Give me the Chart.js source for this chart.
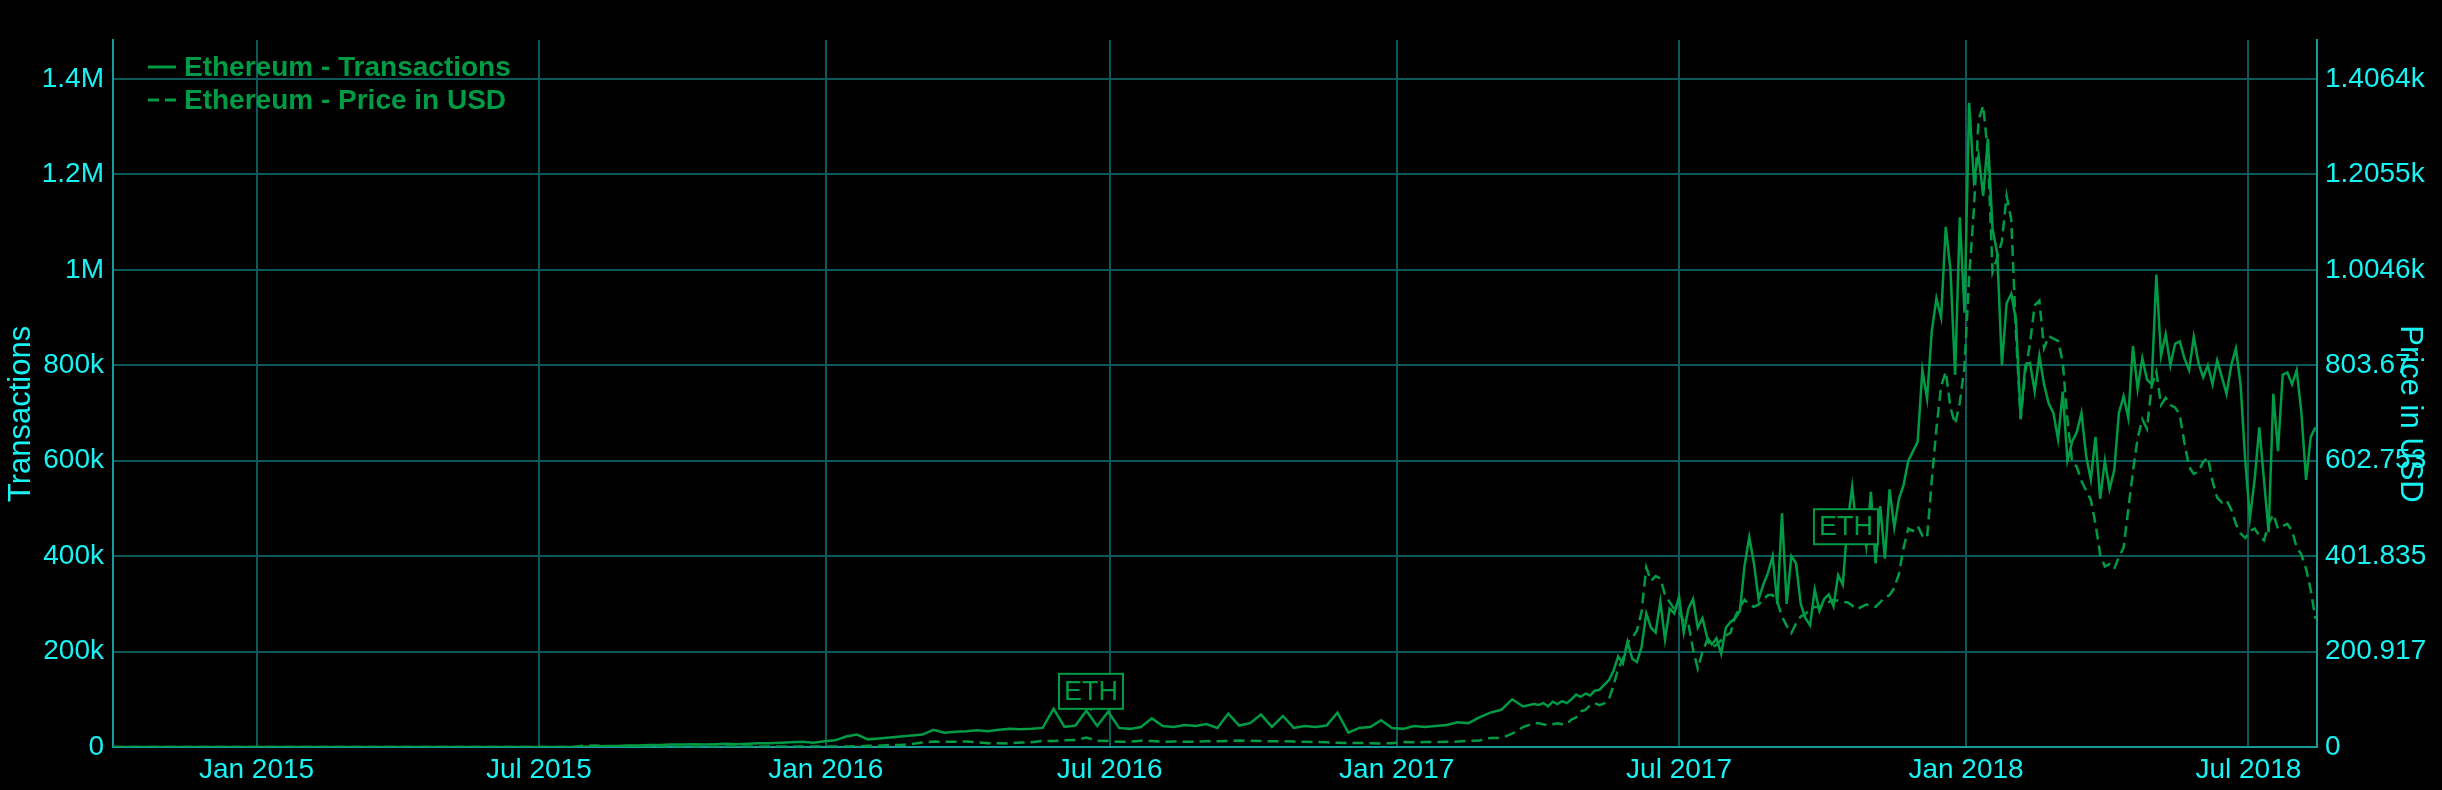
<!DOCTYPE html>
<html>
<head>
<meta charset="utf-8">
<title>Ethereum - Transactions / Price in USD</title>
<script src="https://cdn.jsdelivr.net/npm/chart.js@4.4.1/dist/chart.umd.min.js"></script>
<style>
  html, body { margin: 0; padding: 0; background: #000; }
  #wrap { width: 2442px; height: 790px; }
</style>
</head>
<body>
<div id="wrap"><canvas id="ethChart" width="2442" height="790"></canvas></div>
<script>
// x values are days counted from 2015-01-01
const dayOf = (s) => Math.round((Date.parse(s) - Date.parse('2015-01-01')) / 864e5);

// flat part before the first recorded day
const leadDates = ['2014-10-01', '2015-07-23'];
const leadTx = [0, 0];
const leadPrice = [0, 0];

// weekly samples from 2015-07-30 to 2017-03-30 (transactions in thousands)
const weeklyStart = '2015-07-30';
const weeklyTx = [
    0.5, 1, 2, 2, 3, 3, 4, 4, 5, 5,
    6, 5, 6, 7, 6, 7, 8, 8, 9, 10,
    11, 9, 12, 14, 22, 26, 16, 18, 20, 22,
    24, 26, 36, 30, 32, 33, 35, 33, 36, 38,
    37, 38, 40, 80, 42, 45, 76, 44, 74, 40,
    38, 42, 60, 44, 42, 46, 44, 48, 40, 70,
    45, 50, 68, 42, 65, 40, 44, 42, 45, 72,
    30, 40, 42, 56, 40, 38, 44, 42, 44, 46,
    52, 50, 62, 72, 78, 100, 85, 90
];
const weeklyPrice = [
    2.8, 3.0, 1.8, 1.4, 1.2, 1.3, 1.0, 0.9, 0.8, 0.7,
    0.6, 0.5, 0.6, 1.0, 0.9, 0.9, 0.95, 0.9, 0.85, 0.85,
    0.9, 0.85, 0.95, 0.95, 1.2, 1.5, 2.4, 2.6, 4.5, 4.3,
    6.5, 9.5, 11.5, 11, 11, 11.5, 10, 8, 8, 7.5,
    9.5, 10, 13, 12.5, 14, 14.5, 20, 13, 12.5, 11,
    11.5, 13, 12.5, 11, 11.5, 11, 11, 12, 12, 12.5,
    13.5, 13, 12.5, 12, 12, 11.5, 11, 10.5, 10, 9,
    8.5, 8.4, 7.8, 7.3, 8, 10.5, 9.8, 10.5, 10.6, 11,
    11.4, 12.9, 13.5, 19, 19, 28, 42, 50
];

// samples every 3 days from 2017-04-02 to 2018-08-13
const recentStart = '2017-04-02';
const recentTx = [
    88, 92, 85, 95, 90, 96, 92, 100, 110, 105,
    112, 108, 118, 120, 130, 140, 160, 190, 175, 220,
    185, 178, 210, 280, 250, 240, 305, 225, 290, 280,
    315, 240, 290, 310, 250, 270, 230, 215, 228, 195,
    250, 262, 270, 285, 380, 440, 385, 310, 340, 365,
    400, 300, 490, 300, 400, 385, 300, 270, 255, 330,
    285, 310, 320, 295, 360, 340, 470, 545, 450, 475,
    420, 535, 385, 505, 395, 540, 460, 520, 550, 600,
    620, 640, 790, 730, 870, 940, 900, 1090, 1000, 780,
    1110, 910, 1350, 1190, 1240, 1155, 1275, 1085, 1035, 800,
    930, 950, 895, 690, 800, 805, 745, 820, 760, 720,
    700, 645, 745, 600, 640, 660, 700, 610, 560, 650,
    520, 600, 540, 580, 700, 735, 690, 840, 750, 815,
    770, 760, 990, 820, 865, 800, 845, 850, 815, 790,
    860, 805, 775, 800, 760, 810, 775, 740, 800, 835,
    760, 600, 480, 560, 670, 560, 450, 740, 620, 780,
    785, 760, 790, 700, 560, 650, 670
];
const recentPrice = [
    50, 48, 45, 48, 50, 48, 48, 58, 62, 75,
    78, 88, 92, 88, 92, 100, 130, 165, 185, 220,
    230, 245, 285, 378, 350, 360, 355, 320, 305, 290,
    285, 265, 260, 205, 165, 200, 225, 210, 215, 225,
    235, 240, 275, 295, 310, 300, 295, 300, 310, 320,
    320, 305, 275, 255, 240, 260, 275, 280, 290, 295,
    295, 300, 305, 310, 308, 305, 305, 298, 290, 295,
    300, 298, 295, 305, 315, 320, 335, 365, 420, 460,
    455, 465, 445, 440, 560, 670, 760, 790, 715, 680,
    725, 800, 990, 1130, 1320, 1350, 1250, 1000, 1030, 1065,
    1160, 1110, 870, 690, 790, 850, 930, 940, 840, 865,
    860, 855, 810, 690, 600, 590, 560, 540, 520, 470,
    405, 380, 385, 375, 400, 420, 500, 580, 650, 690,
    670, 760, 790, 720, 735, 720, 715, 700, 640, 590,
    575, 580, 600, 610, 560, 525, 515, 520, 500, 470,
    450, 440, 455, 460, 445, 435, 470, 490, 460, 465,
    470, 455, 420, 405, 375, 330, 270
];

// axes
const xRange = ['2014-10-01', '2018-08-14'];
const xTickDates = ['2015-01-01', '2015-07-01', '2016-01-01', '2016-07-01',
    '2017-01-01', '2017-07-01', '2018-01-01', '2018-07-01'];
const xTickLabels = ['Jan 2015', 'Jul 2015', 'Jan 2016', 'Jul 2016',
    'Jan 2017', 'Jul 2017', 'Jan 2018', 'Jul 2018'];
const txMax = 1481.7;
const txTicks = [0, 200, 400, 600, 800, 1000, 1200, 1400];
const txTickLabels = ['0', '200k', '400k', '600k', '800k', '1M', '1.2M', '1.4M'];
const priceMax = 1488.5;
const priceTicks = [0, 200.917, 401.835, 602.753, 803.67, 1004.59, 1205.5, 1406.4];
const priceTickLabels = ['0', '200.917', '401.835', '602.753', '803.67', '1.0046k', '1.2055k', '1.4064k'];

// "ETH" markers: date, level of the box bottom (thousands of tx)
const noteDates = ['2016-06-19', '2017-10-16'];
const noteLevels = [80, 425];
const noteTexts = ['ETH', 'ETH'];

const GREEN = '#009b45';
const CYAN = '#19f2f2';
const GRID = '#0d5858';
const AXIS = '#179b9b';
const FONT = "'Liberation Sans', Arial, Helvetica, sans-serif";

const buildSeries = (leadVals, weekly, recent) => {
    let pts = [];
    leadDates.forEach((d, i) => pts.push({x: dayOf(d), y: leadVals[i]}));
    let w0 = dayOf(weeklyStart);
    weekly.forEach((v, i) => pts.push({x: w0 + i * 7, y: v}));
    let r0 = dayOf(recentStart);
    recent.forEach((v, i) => pts.push({x: r0 + i * 3, y: v}));
    return pts;
}

const txPoints = buildSeries(leadTx, weeklyTx, recentTx);
const pricePoints = buildSeries(leadPrice, weeklyPrice, recentPrice);

const extras = {
    id: 'extras',
    afterDraw(chart) {
        const ctx = chart.ctx;
        const xs = chart.scales.x, ys = chart.scales.yTx;
        ctx.save();

        // legend
        ctx.font = 'bold 28px ' + FONT;
        ctx.textBaseline = 'middle';
        chart.data.datasets.forEach((ds, i) => {
            let y = 67 + i * 33;
            ctx.strokeStyle = ds.borderColor;
            ctx.lineWidth = 3;
            ctx.setLineDash(ds.borderDash || []);
            ctx.beginPath();
            ctx.moveTo(148, y);
            ctx.lineTo(176, y);
            ctx.stroke();
            ctx.setLineDash([]);
            ctx.fillStyle = ds.borderColor;
            ctx.fillText(ds.label, 184, y + 1);
        });

        // markers
        ctx.font = '27px ' + FONT;
        ctx.textAlign = 'center';
        noteDates.forEach((d, i) => {
            let day = dayOf(d);
            let cx = xs.getPixelForValue(day);
            let bottom = ys.getPixelForValue(noteLevels[i]);
            let w = ctx.measureText(noteTexts[i]).width + 10;
            let h = 35;
            let near = txPoints.reduce((a, b) => Math.abs(b.x - day) < Math.abs(a.x - day) ? b : a);
            let py = ys.getPixelForValue(near.y);
            ctx.strokeStyle = GREEN;
            ctx.lineWidth = 2;
            if (py > bottom) {
                ctx.beginPath();
                ctx.moveTo(cx, bottom);
                ctx.lineTo(cx, py);
                ctx.stroke();
            }
            ctx.fillStyle = '#000';
            ctx.fillRect(cx - w / 2, bottom - h, w, h);
            ctx.strokeRect(cx - w / 2, bottom - h, w, h);
            ctx.fillStyle = GREEN;
            ctx.fillText(noteTexts[i], cx, bottom - h / 2 + 1);
        });

        // axis titles
        ctx.font = '31px ' + FONT;
        ctx.fillStyle = CYAN;
        ctx.textAlign = 'center';
        ctx.textBaseline = 'middle';
        ctx.save();
        ctx.translate(21, 414);
        ctx.rotate(-Math.PI / 2);
        ctx.fillText('Transactions', 0, 0);
        ctx.restore();
        ctx.save();
        ctx.translate(2410, 414);
        ctx.rotate(Math.PI / 2);
        ctx.fillText('Price in USD', 0, 0);
        ctx.restore();

        ctx.restore();
    }
};

const tickFont = {family: FONT, size: 28};

new Chart(document.getElementById('ethChart'), {
    type: 'line',
    data: {
        datasets: [{
            label: 'Ethereum - Transactions',
            data: txPoints,
            yAxisID: 'yTx',
            borderColor: GREEN,
            borderWidth: 2.5,
            pointRadius: 0,
            tension: 0
        }, {
            label: 'Ethereum - Price in USD',
            data: pricePoints,
            yAxisID: 'yPrice',
            borderColor: GREEN,
            borderWidth: 2.5,
            borderDash: [11, 6],
            pointRadius: 0,
            tension: 0
        }]
    },
    options: {
        responsive: false,
        animation: false,
        devicePixelRatio: 1,
        layout: {padding: {top: 40, left: 0, right: 0, bottom: 0}},
        plugins: {
            legend: {display: false},
            tooltip: {enabled: false}
        },
        scales: {
            x: {
                type: 'linear',
                min: dayOf(xRange[0]),
                max: dayOf(xRange[1]),
                afterBuildTicks: (scale) => {
                    scale.ticks = xTickDates.map((d) => ({value: dayOf(d)}));
                },
                afterFit: (scale) => { scale.height = 43; },
                ticks: {
                    color: CYAN,
                    font: tickFont,
                    padding: 6,
                    maxRotation: 0,
                    autoSkip: false,
                    callback: (v, i) => xTickLabels[i]
                },
                grid: {color: GRID, lineWidth: 2, drawTicks: false},
                border: {color: AXIS, width: 2}
            },
            yTx: {
                position: 'left',
                min: 0,
                max: txMax,
                afterBuildTicks: (scale) => {
                    scale.ticks = txTicks.map((v) => ({value: v}));
                },
                afterFit: (scale) => { scale.width = 113; },
                ticks: {
                    color: CYAN,
                    font: tickFont,
                    padding: 9,
                    callback: (v, i) => txTickLabels[i]
                },
                grid: {color: GRID, lineWidth: 2, drawTicks: false},
                border: {color: AXIS, width: 2}
            },
            yPrice: {
                position: 'right',
                min: 0,
                max: priceMax,
                afterBuildTicks: (scale) => {
                    scale.ticks = priceTicks.map((v) => ({value: v}));
                },
                afterFit: (scale) => { scale.width = 125; },
                ticks: {
                    color: CYAN,
                    font: tickFont,
                    padding: 8,
                    callback: (v, i) => priceTickLabels[i]
                },
                grid: {display: false, drawTicks: false},
                border: {color: AXIS, width: 2}
            }
        }
    },
    plugins: [extras]
});
</script>
</body>
</html>
